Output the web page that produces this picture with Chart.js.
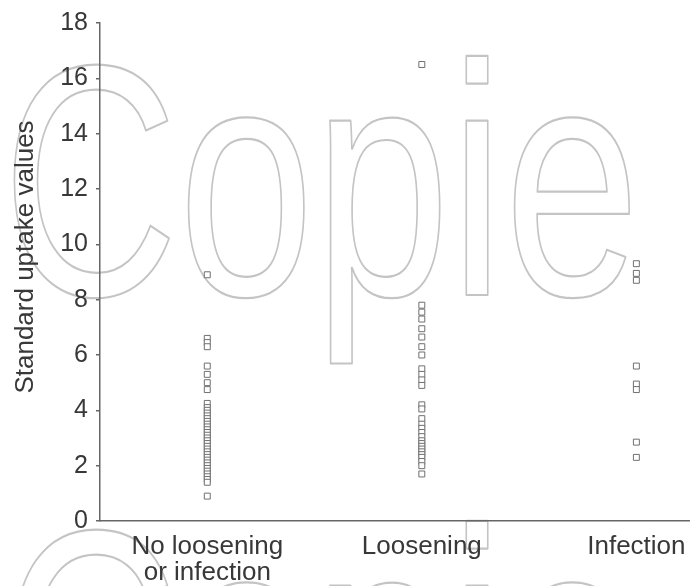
<!DOCTYPE html>
<html>
<head>
<meta charset="utf-8">
<script src="https://cdn.jsdelivr.net/npm/chart.js@4/dist/chart.umd.min.js"></script>
<style>
  html, body { margin: 0; padding: 0; background: #ffffff; }
  #wrap { width: 690px; height: 586px; }
</style>
</head>
<body>
<div id="wrap"><canvas id="c" width="690" height="586"></canvas></div>
<script>
// Groups along the horizontal axis
const categories = [["No loosening", "or infection"], "Loosening", "Infection"];

// Standard uptake values measured in each group
const noLooseningValues = [
  8.9, 6.6, 6.45, 6.3, 5.6, 5.3, 5.0, 4.75,
  4.25, 4.1, 4.0, 3.9, 3.8, 3.7, 3.6, 3.5, 3.4, 3.3, 3.2, 3.1, 3.0,
  2.9, 2.8, 2.7, 2.6, 2.5, 2.4, 2.3, 2.2, 2.1, 2.0, 1.9, 1.8, 1.7,
  1.6, 1.5, 1.4, 0.9
];
const looseningValues = [
  16.5, 7.8, 7.55, 7.3, 6.95, 6.65, 6.3, 6.0, 5.5, 5.3, 5.1, 4.9,
  4.2, 4.05, 3.7, 3.5, 3.35, 3.2, 3.05, 2.9, 2.8, 2.7, 2.6, 2.5,
  2.4, 2.3, 2.15, 2.0, 1.7
];
const infectionValues = [9.3, 8.95, 8.7, 5.6, 4.95, 4.75, 2.85, 2.3];

// Vertical axis ticks
const yTicks = [0, 2, 4, 6, 8, 10, 12, 14, 16, 18];
const yTitle = "Standard uptake values";

const groups = [noLooseningValues, looseningValues, infectionValues];
const points = [];
groups.forEach((vals, i) => vals.forEach(v => points.push({ x: i + 1, y: v })));

const FONT = "'Liberation Sans', Arial, Helvetica, sans-serif";
const TEXT = "#383838";
const AXIS = "#666666";

// Outlined "Copie" stamp repeated down the page, behind the plot
const stampPlugin = {
  id: "stamp",
  beforeDraw(chart) {
    const ctx = chart.ctx;
    ctx.save();
    ctx.strokeStyle = "#c4c4c4";
    ctx.lineWidth = 2.2;
    ctx.lineJoin = "round";
    ctx.textBaseline = "alphabetic";
    ctx.textAlign = "left";
    const size = 330;
    ctx.font = "400 " + size + "px " + FONT;
    const w = ctx.measureText("Copie").width;
    const sx = 638 / w;
    [0, 465].forEach(dy => {
      ctx.save();
      ctx.translate(2, 295 + dy);
      ctx.scale(sx, 1);
      ctx.strokeText("Copie", 0, 0);
      ctx.restore();
    });
    ctx.restore();
  }
};

// Rotated caption for the vertical axis, set a little above the axis middle
const yTitlePlugin = {
  id: "yTitle",
  afterDraw(chart) {
    const ctx = chart.ctx;
    ctx.save();
    ctx.fillStyle = TEXT;
    ctx.font = "26px " + FONT;
    ctx.textAlign = "center";
    ctx.textBaseline = "middle";
    ctx.translate(26, 257);
    ctx.rotate(-Math.PI / 2);
    ctx.fillText(yTitle, 0, 0);
    ctx.restore();
  }
};

new Chart(document.getElementById("c"), {
  type: "scatter",
  data: {
    datasets: [{
      data: points,
      pointStyle: "rect",
      pointRadius: 4.2,
      pointHoverRadius: 4.2,
      pointBackgroundColor: "#ffffff",
      pointBorderColor: "#707070",
      pointBorderWidth: 1
    }]
  },
  options: {
    responsive: false,
    devicePixelRatio: 1,
    animation: false,
    events: [],
    layout: { autoPadding: false, padding: { top: 18, right: 0, bottom: 0, left: 0 } },
    plugins: {
      legend: { display: false },
      tooltip: { enabled: false }
    },
    scales: {
      x: {
        type: "linear",
        min: 0.5,
        max: 3.25,
        afterBuildTicks(axis) { axis.ticks = [1, 2, 3].map(v => ({ value: v })); },
        afterFit(axis) { axis.height = 65; axis.paddingLeft = 0; axis.paddingRight = 0; },
        grid: { display: false, drawTicks: false },
        border: { display: true, color: AXIS, width: 1.5 },
        ticks: {
          autoSkip: false,
          maxRotation: 0,
          padding: 13,
          color: TEXT,
          font: { family: FONT, size: 26, lineHeight: 1.0 },
          callback: v => categories[v - 1]
        }
      },
      y: {
        min: 0,
        max: 18,
        afterBuildTicks(axis) { axis.ticks = yTicks.map(v => ({ value: v })); },
        afterFit(axis) { axis.width = 100; },
        grid: { drawOnChartArea: false, drawTicks: true, tickLength: 4, color: AXIS, lineWidth: 1.5 },
        border: { display: true, color: AXIS, width: 1.5 },
        ticks: {
          padding: 8,
          color: TEXT,
          font: { family: FONT, size: 25 }
        }
      }
    }
  },
  plugins: [stampPlugin, yTitlePlugin]
});
</script>
</body>
</html>
